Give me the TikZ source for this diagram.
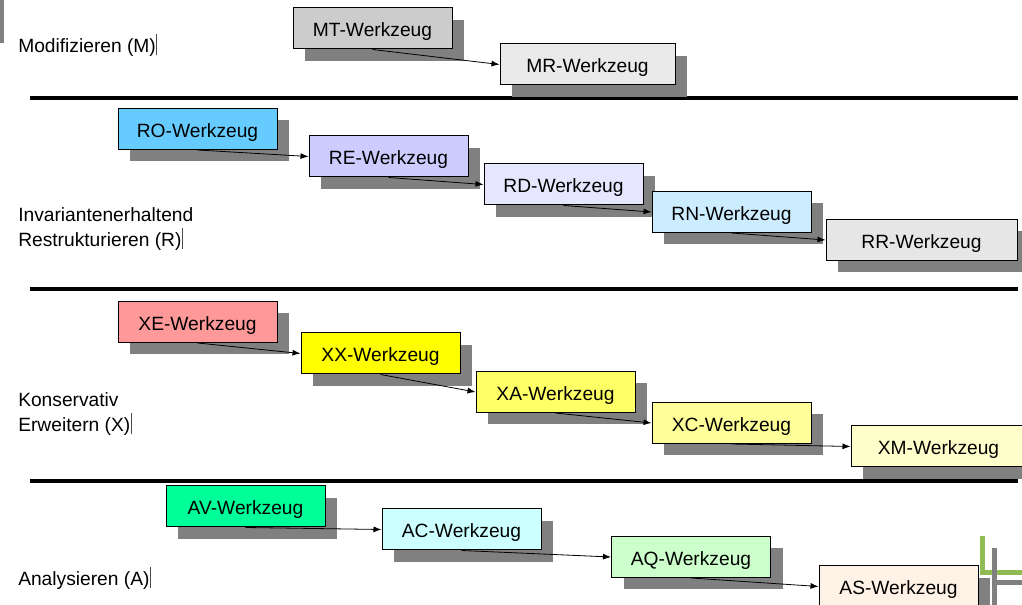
\documentclass[tikz,border=0pt]{standalone}
\usepackage{fontspec}
\setmainfont{Liberation Sans}
\usetikzlibrary{arrows.meta,shadows}

\definecolor{shadowgray}{HTML}{808080}
\definecolor{barolive}{HTML}{8FBC52}
\definecolor{cMT}{HTML}{CCCCCC}
\definecolor{cMR}{HTML}{EAEAEA}
\definecolor{cRO}{HTML}{66CCFF}
\definecolor{cRE}{HTML}{CCCCFF}
\definecolor{cRD}{HTML}{E6E6FF}
\definecolor{cRN}{HTML}{CCECFF}
\definecolor{cRR}{HTML}{E6E6E6}
\definecolor{cXE}{HTML}{FF9999}
\definecolor{cXX}{HTML}{FFFF00}
\definecolor{cXA}{HTML}{FFFF66}
\definecolor{cXC}{HTML}{FFFF99}
\definecolor{cXM}{HTML}{FFFFCC}
\definecolor{cAV}{HTML}{00FF99}
\definecolor{cAC}{HTML}{CCFFFF}
\definecolor{cAQ}{HTML}{CCFFCC}
\definecolor{cAS}{HTML}{FFF2E6}

% small closing mark printed after each group label
\newcommand\grpmark{\kern0.3pt\textcolor{black!70}{\rule[-0.25ex]{0.6pt}{2.05ex}}}

\tikzset{
  tool/.style={draw=black, line width=0.75pt, inner sep=0pt,
    minimum width=119.25pt, minimum height=30.75pt,
    text height=12.6pt, text depth=0pt,
    font=\fontsize{14.4pt}{17pt}\selectfont,
    drop shadow={shadow xshift=9pt, shadow yshift=-9pt, fill=shadowgray, opacity=1}},
  wide/.style={minimum width=131.25pt},
  wider/.style={minimum width=143.25pt},
  flow/.style={-{Latex[length=6pt,width=4.5pt]}, line width=0.6pt},
  grouplabel/.style={anchor=west, inner sep=0pt, align=left,
    font=\fontsize{14.4pt}{18.3pt}\selectfont},
  divider/.style={line width=3pt, black},
}

\begin{document}
\begin{tikzpicture}[x=0.75pt, y=-0.75pt]
\clip (0,0) rectangle (1022,605);
\useasboundingbox (0,0) rectangle (1022,605);

% margin tab at the upper left
\fill[shadowgray] (0,0) rectangle (4,43);

% group dividers
\draw[divider] (30,98) -- (1018,98);
\draw[divider] (30,289) -- (1018,289);
\draw[divider] (30,481) -- (1018,481);

% group labels
\node[grouplabel] (lM) at (18,45) {Modifizieren (M)\grpmark};
\node[grouplabel] (lR) at (18,229) {Invariantenerhaltend\\Restrukturieren (R)\grpmark};
\node[grouplabel] (lX) at (18,414) {Konservativ\\Erweitern (X)\grpmark};
\node[grouplabel] (lA) at (18,578) {Analysieren (A)\grpmark};

% Modifizieren
\node[tool, fill=cMT] (MT) at (372.5,28.5) {MT-Werkzeug};
\node[tool, wide, fill=cMR] (MR) at (587.5,64.5) {MR-Werkzeug};

% Restrukturieren
\node[tool, fill=cRO] (RO) at (197.5,129) {RO-Werkzeug};
\node[tool, fill=cRE] (RE) at (388.5,156.5) {RE-Werkzeug};
\node[tool, fill=cRD] (RD) at (563.5,184.5) {RD-Werkzeug};
\node[tool, fill=cRN] (RN) at (731.5,212) {RN-Werkzeug};
\node[tool, wider, fill=cRR] (RR) at (921.5,240) {RR-Werkzeug};

% Erweitern
\node[tool, fill=cXE] (XE) at (197.5,322) {XE-Werkzeug};
\node[tool, fill=cXX] (XX) at (380.5,353.5) {XX-Werkzeug};
\node[tool, fill=cXA] (XA) at (555.5,392) {XA-Werkzeug};
\node[tool, fill=cXC] (XC) at (731.5,423) {XC-Werkzeug};
\node[tool, wide, fill=cXM] (XM) at (938.5,446.5) {XM-Werkzeug};

% Analysieren
\node[tool, fill=cAV] (AV) at (245.5,506.5) {AV-Werkzeug};
\node[tool, fill=cAC] (AC) at (461.5,529.5) {AC-Werkzeug};
\node[tool, fill=cAQ] (AQ) at (691,557) {AQ-Werkzeug};
\node[tool, fill=cAS] (AS) at (898.5,586.5) {AS-Werkzeug};

% sequence arrows
\draw[flow] (MT.south) -- (MR.west);
\draw[flow] (RO.south) -- (RE.west);
\draw[flow] (RE.south) -- (RD.west);
\draw[flow] (RD.south) -- (RN.west);
\draw[flow] (RN.south) -- (RR.west);
\draw[flow] (XE.south) -- (XX.west);
\draw[flow] (XX.south) -- (XA.west);
\draw[flow] (XA.south) -- (XC.west);
\draw[flow] (XC.south) -- (XM.west);
\draw[flow] (AV.south) -- (AC.west);
\draw[flow] (AC.south) -- (AQ.west);
\draw[flow] (AQ.south) -- (AS.west);

% corner ornament
\draw[barolive, line width=3.75pt] (982,536) -- (982,573) -- (1022,573);
\draw[shadowgray, line width=3.75pt] (994,548) -- (994,605);
\draw[shadowgray, line width=3.75pt] (994,583) -- (1022,583);
\end{tikzpicture}
\end{document}
